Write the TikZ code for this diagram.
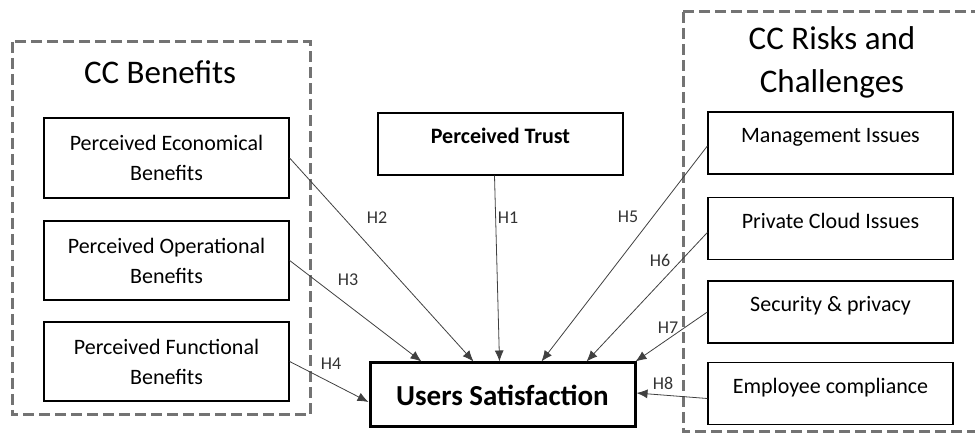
\documentclass[tikz,border=0pt]{standalone}
\usepackage{fontspec}
\setmainfont{Carlito}
\usetikzlibrary{arrows.meta}
\tikzset{
  groupbox/.style={draw=black!55, line width=3pt, dash pattern=on 11pt off 5pt},
  factor/.style={draw=black, line width=1.3pt, minimum width=245pt, minimum height=62pt, align=center, inner sep=0pt, font=\fontsize{22}{30}\selectfont},
  target/.style={draw=black, line width=3pt, minimum width=265pt, minimum height=64pt, inner sep=0pt, font=\fontsize{29}{34}\selectfont\bfseries},
  grouptitle/.style={font=\fontsize{33}{43}\selectfont, align=center},
  hyp/.style={draw=black!75, line width=0.8pt, -{Latex[length=11pt,width=9pt]}},
  hlab/.style={font=\fontsize{18}{20}\selectfont, text=black!80, inner sep=0pt}
}
\begin{document}
\begin{tikzpicture}[x=1pt,y=-1pt]
\useasboundingbox (0,0) rectangle (975,435);
\begin{scope}
\clip (0,0) rectangle (975,435);
% group boxes
\draw[groupbox] (12,42) rectangle (310,415);
\draw[groupbox] (683,12) -- (990,12) (683,12) -- (683,432) -- (990,432);
\end{scope}
\node[grouptitle] (t1) at (160,72) {CC Benefits};
\node[grouptitle] (t2) at (832,62) {CC Risks and\\Challenges};
% left factors
\node[factor, minimum height=80pt] (eco) at (166.5,158) {Perceived Economical\\Benefits};
\node[factor, minimum height=79pt] (ope) at (166.5,260.5) {Perceived Operational\\Benefits};
\node[factor, minimum height=79pt] (fun) at (166.5,361.5) {Perceived Functional\\Benefits};
% trust
\node[factor, font=\fontsize{22}{30}\selectfont\bfseries] (tru) at (500.5,144) {Perceived Trust\\[-14pt]\mbox{}};
% right factors
\node[factor] (man) at (830.5,143) {Management Issues\\[-14pt]\mbox{}};
\node[factor] (pri) at (830.5,228.5) {Private Cloud Issues\\[-14pt]\mbox{}};
\node[factor] (sec) at (830.5,312) {Security \& privacy\\[-14pt]\mbox{}};
\node[factor] (emp) at (830.5,393.5) {Employee compliance\\[-14pt]\mbox{}};
% target
\node[target] (us) at (502.5,395) {Users Satisfaction};
% targets on the box
\coordinate (a3) at ([xshift=53pt]us.north west);
\coordinate (a2) at ([xshift=105pt]us.north west);
\coordinate (a1) at ([xshift=131pt]us.north west);
\coordinate (a5) at ([xshift=173pt]us.north west);
\coordinate (a6) at ([xshift=218pt]us.north west);
\coordinate (a7) at ([xshift=-1pt]us.north east);
\coordinate (a4) at ([yshift=-7pt]us.west);
\coordinate (a8) at ([yshift=2pt]us.east);
% connectors
\draw[hyp] (eco.east) -- (a2);
\draw[hyp] (ope.east) -- (a3);
\draw[hyp] (fun.east) -- (a4);
\draw[hyp] ([xshift=-6pt]tru.south) -- (a1);
\draw[hyp] ([yshift=-3pt]man.west) -- (a5);
\draw[hyp] ([yshift=-4pt]pri.west) -- (a6);
\draw[hyp] (sec.west) -- (a7);
\draw[hyp] ([yshift=-5pt]emp.west) -- (a8);
% labels
\node[hlab] (h2) at (377,218) {H2};
\node[hlab] (h3) at (348,280) {H3};
\node[hlab] (h4) at (331,364) {H4};
\node[hlab] (h1) at (508,218) {H1};
\node[hlab] (h5) at (628,217) {H5};
\node[hlab] (h6) at (660,260) {H6};
\node[hlab] (h7) at (668,328) {H7};
\node[hlab] (h8) at (663,383) {H8};
\end{tikzpicture}
\end{document}
